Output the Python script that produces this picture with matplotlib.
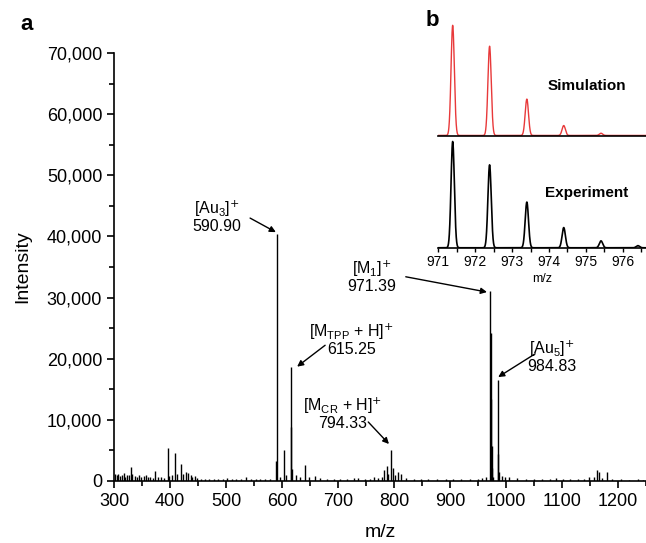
import numpy as np
import matplotlib
matplotlib.use("Agg")
import matplotlib.pyplot as plt
from matplotlib.ticker import MultipleLocator, StrMethodFormatter

plt.rcParams["font.family"] = ["Liberation Sans", "DejaVu Sans"]
plt.rcParams["mathtext.default"] = "regular"

# main spectrum: strong peaks (m/z, intensity)
peak_mz = [330.3, 374.0, 395.7, 408.7, 418.9, 428.0, 433.0, 444.0,
           588.9, 590.90, 602.9, 615.25, 616.25, 617.2, 640.5, 659.5,
           783.0, 787.0, 794.33, 798.0, 806.8,
           971.39, 972.39, 973.40, 974.40, 975.41, 976.41,
           984.83, 985.83, 986.83,
           1148.0, 1163.0, 1166.0, 1180.0]
peak_int = [2350, 1700, 5350, 4500, 2700, 1400, 1300, 800,
            3200, 40400, 5100, 18700, 8900, 2000, 2650, 800,
            1800, 2400, 5000, 2200, 1500,
            31000, 24200, 13400, 5800, 2100, 700,
            16500, 4400, 1500,
            600, 1800, 1500, 1400]

# small background peaks
noise_mz = [302, 305, 308, 311, 314, 317, 320, 323, 326, 333, 337, 341, 345,
            349, 353, 357, 361, 365, 369, 379, 384, 389, 399, 403, 413, 423,
            437, 440, 448, 455, 462, 470, 478, 486, 494, 501, 510, 518, 526,
            536, 545, 553, 561, 570, 578, 596, 608, 625, 632, 648, 668, 680,
            692, 704, 716, 728, 736, 748, 758, 765, 772, 778, 790, 802, 812,
            822, 835, 848, 860, 876, 893, 905, 920, 935, 950, 958, 965, 992,
            998, 1006, 1020, 1035, 1050, 1065, 1078, 1089, 1102, 1115, 1128,
            1140, 1158, 1172, 1190, 1205, 1220, 1235, 1245]
noise_int = [1100, 900, 1200, 800, 1000, 1300, 700, 1000, 900, 1200, 800,
             700, 900, 600, 800, 900, 700, 600, 500, 700, 600, 500, 800, 900,
             1100, 1200, 900, 700, 500, 400, 300, 350, 300, 250, 300, 500,
             300, 250, 300, 700, 300, 250, 350, 300, 400, 600, 900, 900, 700,
             600, 450, 400, 300, 350, 300, 450, 500, 300, 400, 700, 500, 600,
             1200, 900, 1100, 500, 400, 300, 250, 300, 250, 300, 400, 300,
             350, 550, 600, 800, 700, 600, 500, 300, 250, 300, 250, 500, 300,
             250, 300, 350, 600, 450, 300, 250, 200, 250, 200]

# inset: isotope pattern of [M1]+ (relative heights)
iso_mz = [971.39, 972.39, 973.40, 974.40, 975.41, 976.41]
exp_int = [100, 78, 43, 19, 6.5, 2]
sim_int = [100, 81, 33, 9, 2, 0]

fig = plt.figure(figsize=(6.46, 5.43), dpi=100)
ax = fig.add_axes([0.1765, 0.1142, 0.8235, 0.7882])

ax.vlines(noise_mz, 0, noise_int, color="black", lw=1)
ax.vlines(peak_mz, 0, peak_int, color="black", lw=1)

ax.set_xlim(300, 1250)
ax.set_ylim(0, 70000)
ax.spines["right"].set_visible(False)
ax.spines["top"].set_visible(False)
for s in ["left", "bottom"]:
    ax.spines[s].set_linewidth(1.2)
ax.xaxis.set_major_locator(MultipleLocator(100))
ax.xaxis.set_minor_locator(MultipleLocator(50))
ax.yaxis.set_major_locator(MultipleLocator(10000))
ax.yaxis.set_minor_locator(MultipleLocator(5000))
ax.yaxis.set_major_formatter(StrMethodFormatter("{x:,.0f}"))
ax.tick_params(which="major", direction="out", length=5, width=1.2, labelsize=13)
ax.tick_params(which="minor", direction="out", length=3.5, width=1.2)
ax.set_xlabel("m/z", fontsize=14, labelpad=10)
ax.set_ylabel("Intensity", fontsize=14, labelpad=11)

# annotations
sup = r"]$^{\text{+}}$"
labels = [
    (r"[Au$_3$" + sup + "\n590.90", (484, 43300), (543, 43000), (589, 40700)),
    (r"[M$_{TPP}$ + H" + sup + "\n615.25", (724, 23100), (677, 22200), (627, 18700)),
    (r"[M$_{CR}$ + H" + sup + "\n794.33", (709, 11000), (754, 9650), (791, 6050)),
    (r"[M$_1$" + sup + "\n971.39", (761, 33500), (821, 33400), (966, 30900)),
    (r"[Au$_5$" + sup + "\n984.83", (1082, 20400), (1052, 20800), (986, 17000)),
]
for txt, pos, start, end in labels:
    ax.text(pos[0], pos[1], txt, ha="center", va="center", fontsize=11.5,
            linespacing=1.0)
    ax.annotate("", xy=end, xytext=start,
                arrowprops=dict(arrowstyle="-|>", color="black", lw=1,
                                mutation_scale=9, shrinkA=0, shrinkB=0))

fig.text(20 / 646, 1 - 25 / 543, "a", fontsize=16, fontweight="bold",
         ha="left", va="center")
fig.text(426 / 646, 1 - 20 / 543, "b", fontsize=16, fontweight="bold",
         ha="left", va="center")

# inset
grid = np.linspace(971.0, 976.63, 3000)
sig = 0.045


def profile(heights):
    y = np.zeros_like(grid)
    for c, h in zip(iso_mz, heights):
        y += h * np.exp(-0.5 * ((grid - c) / sig) ** 2)
    return y


ax_exp = fig.add_axes([438.3 / 646, 1 - 248.3 / 543, 1 - 438.3 / 646, 110 / 543])
ax_sim = fig.add_axes([438.3 / 646, 1 - 136 / 543, 1 - 438.3 / 646, 114 / 543])

ax_exp.plot(grid, profile(exp_int), color="black", lw=1.2)
ax_sim.plot(grid, profile(sim_int), color="#e8393a", lw=1)

for a in (ax_exp, ax_sim):
    a.set_xlim(971.0, 976.63)
    a.set_ylim(-0.5, 103)
    a.patch.set_alpha(0)
    for s in ["left", "right", "top"]:
        a.spines[s].set_visible(False)
    a.spines["bottom"].set_linewidth(1.2)
    a.set_yticks([])

ax_sim.set_xticks([])
ax_exp.xaxis.set_major_locator(MultipleLocator(1))
ax_exp.xaxis.set_minor_locator(MultipleLocator(0.5))
ax_exp.tick_params(which="both", direction="out", length=3, width=1, labelsize=10,
                   pad=2)
ax_exp.set_xlabel("m/z", fontsize=9, labelpad=3)

fig.text(587 / 646, 1 - 86 / 543, "Simulation", fontsize=11, fontweight="bold",
         ha="center", va="center")
fig.text(587 / 646, 1 - 193 / 543, "Experiment", fontsize=11, fontweight="bold",
         ha="center", va="center")

fig.savefig("out.png", dpi=100)
